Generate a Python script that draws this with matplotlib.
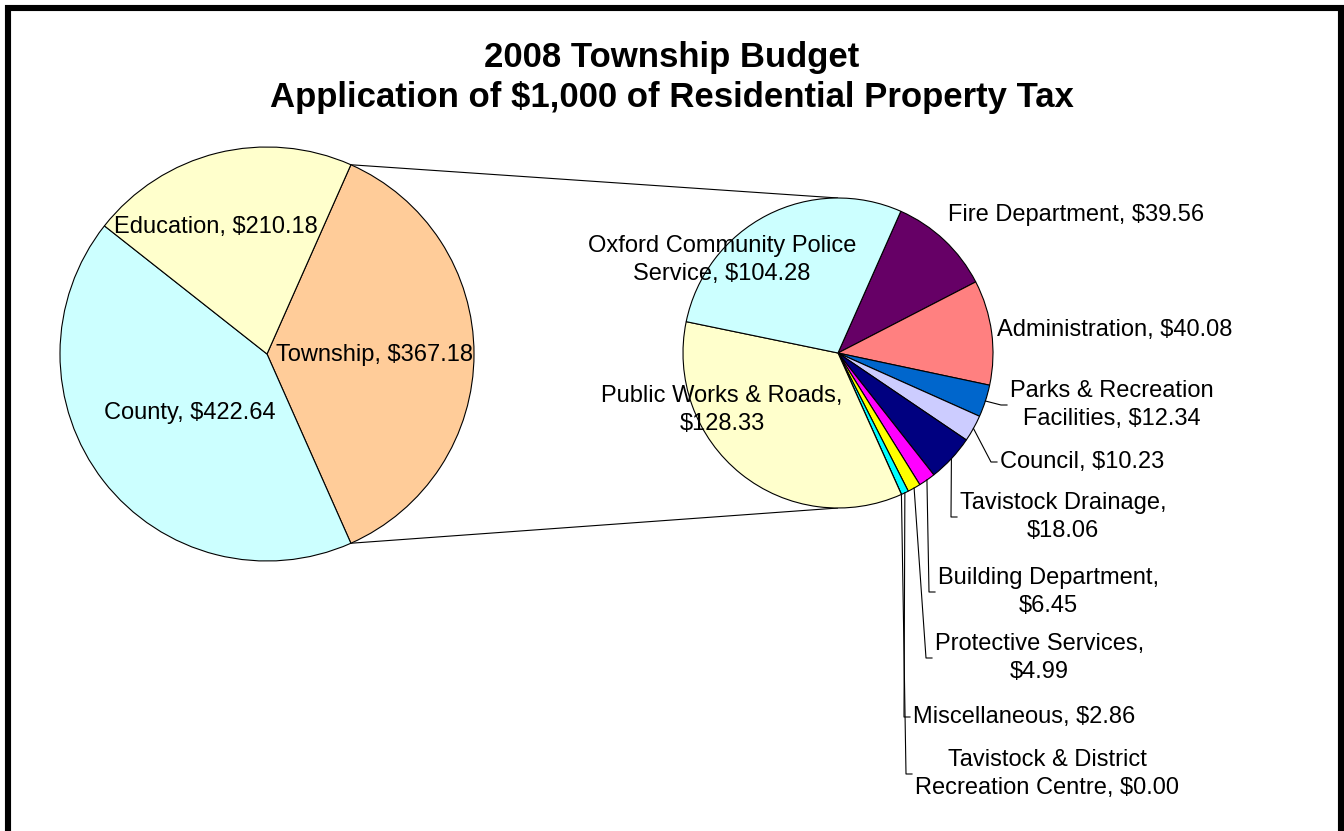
import numpy as np
import matplotlib
matplotlib.use('Agg')
import matplotlib.pyplot as plt
from matplotlib.patches import Rectangle

# ---------------- data ----------------
title_lines = ['2008 Township Budget',
               'Application of $1,000 of Residential Property Tax']

main_labels = ['Township', 'County', 'Education']
main_values = [367.18, 422.64, 210.18]
main_colors = ['#FFCC99', '#CCFFFF', '#FFFFCC']

sub_labels = ['Fire Department', 'Administration', 'Parks & Recreation Facilities',
              'Council', 'Tavistock Drainage', 'Building Department',
              'Protective Services', 'Miscellaneous',
              'Tavistock & District Recreation Centre', 'Public Works & Roads',
              'Oxford Community Police Service']
sub_values = [39.56, 40.08, 12.34, 10.23, 18.06, 6.45, 4.99, 2.86, 0.00, 128.33, 104.28]
sub_colors = ['#660066', '#FF8080', '#0066CC', '#CCCCFF', '#000080', '#FF00FF',
              '#FFFF00', '#00FFFF', '#800080', '#FFFFCC', '#CCFFFF']

# ---------------- layout (pixels, y measured from top) ----------------
W, H = 1344, 831
FS = 17
FONT = ['Liberation Sans', 'DejaVu Sans']
LS = 1.38

c1, r1 = (267, 354), 207
c2, r2 = (838, 353), 155

main_pos = [(374, 355), (190, 413), (216, 227)]

# (mode, x, y, break_after_words)  mode 'c' = centred, 'l' = left anchored with leader
sub_layout = [
    ('c', 1076, 215, None),
    ('c', 1115, 330, None),
    ('l', 1010, 405, 3),
    ('l', 1000, 462, None),
    ('l', 960, 517, 2),
    ('l', 938, 592, 2),
    ('l', 935, 658, 2),
    ('l', 913, 717, None),
    ('l', 915, 774, 3),
    ('c', 722, 410, 4),
    ('c', 722, 260, 3),
]


def fmt(label, value, brk):
    s = f'{label}, ${value:,.2f}'
    if brk:
        w = s.split(' ')
        s = ' '.join(w[:brk]) + '\n' + ' '.join(w[brk:])
    return s


def Y(y):
    return H - y


fig = plt.figure(figsize=(W / 100, H / 100), dpi=100)
ax = fig.add_axes([0, 0, 1, 1])

start = main_values[0] / sum(main_values) * 180.0
wp = dict(edgecolor='black', linewidth=0.8)

w1, _ = ax.pie(main_values, colors=main_colors, startangle=start, counterclock=False,
               center=(c1[0], Y(c1[1])), radius=r1, wedgeprops=wp)
w2, _ = ax.pie(sub_values, colors=sub_colors, startangle=start, counterclock=False,
               center=(c2[0], Y(c2[1])), radius=r2, wedgeprops=wp)

ax.set_xlim(0, W)
ax.set_ylim(0, H)
ax.axis('off')

# connector lines between the pies
tw = w1[0]
for ang, sign in ((tw.theta2, 1), (tw.theta1, -1)):
    a = np.deg2rad(ang)
    x0 = c1[0] + r1 * np.cos(a)
    y0 = Y(c1[1]) + r1 * np.sin(a)
    ax.plot([x0, c2[0]], [y0, Y(c2[1]) + sign * r2], color='black', lw=0.8,
            solid_capstyle='butt', zorder=0.5)

# main pie labels
for lab, val, (x, y) in zip(main_labels, main_values, main_pos):
    ax.text(x, Y(y), fmt(lab, val, None), ha='center', va='center',
            fontsize=FS, family=FONT)

# sub pie labels + leaders
for wdg, lab, val, (mode, x, y, brk) in zip(w2, sub_labels, sub_values, sub_layout):
    txt = fmt(lab, val, brk)
    if mode == 'c':
        ax.text(x, Y(y), txt, ha='center', va='center', multialignment='center',
                fontsize=FS, family=FONT, linespacing=LS)
    else:
        ax.text(x, Y(y), txt, ha='left', va='center', multialignment='center',
                fontsize=FS, family=FONT, linespacing=LS)
        a = np.deg2rad((wdg.theta1 + wdg.theta2) / 2)
        ex = c2[0] + r2 * np.cos(a)
        ey = Y(c2[1]) + r2 * np.sin(a)
        ax.plot([ex, x - 9, x - 3], [ey, Y(y), Y(y)], color='black', lw=0.8)

# title
ax.text(W / 2, Y(58), title_lines[0], ha='center', va='center', fontsize=25,
        fontweight='bold', family=FONT)
ax.text(W / 2, Y(98), title_lines[1], ha='center', va='center', fontsize=25,
        fontweight='bold', family=FONT)

# outer frame
ax.add_patch(Rectangle((8, -30), 1340.5 - 8, Y(8) + 30, fill=False,
                       edgecolor='black', lw=4.4, clip_on=False))

fig.savefig('out.png', dpi=100)
